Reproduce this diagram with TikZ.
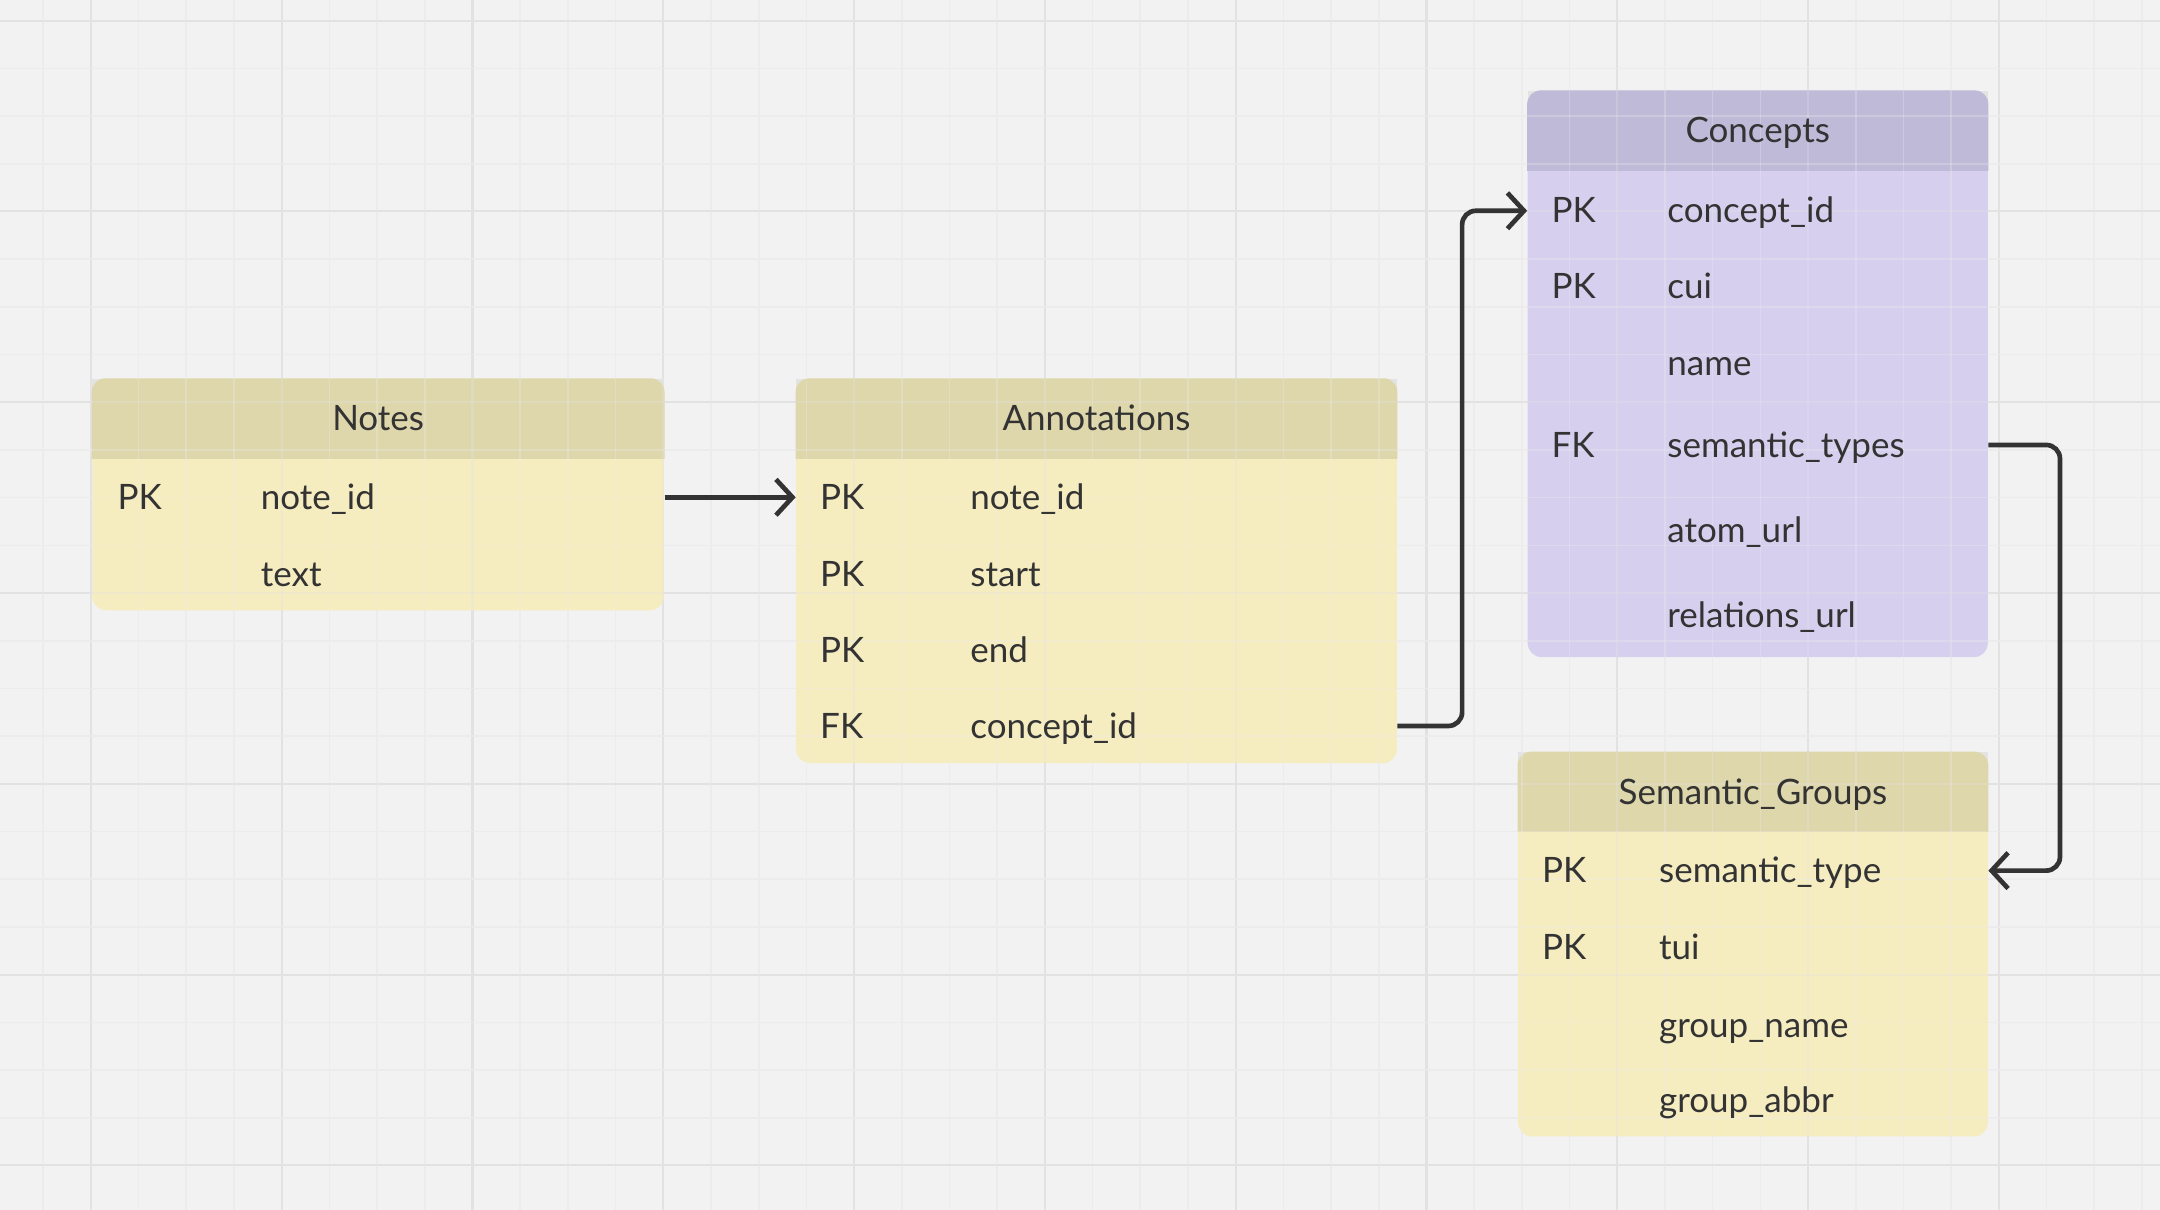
\documentclass[tikz,border=0pt]{standalone}
\usepackage{fontspec}
\setmainfont{Lato}
\usetikzlibrary{arrows.meta}
\definecolor{bg}{HTML}{F2F2F2}
\definecolor{gmaj}{HTML}{E2E2E2}
\definecolor{gmin}{HTML}{ECECEC}
\definecolor{ybody}{HTML}{F5ECC0}
\definecolor{yhdr}{HTML}{DFD7AC}
\definecolor{pbody}{HTML}{D6D0EE}
\definecolor{phdr}{HTML}{BEBAD8}
\definecolor{hshade}{HTML}{E3E3E3}
\definecolor{ink}{HTML}{333333}
\tikzset{
  tbl/.style={inner sep=0pt, rounded corners=5pt, draw=none},
  fld/.style={anchor=west, inner sep=0pt, text height=8.8pt, text depth=0pt,
    font=\fontsize{12.7pt}{14pt}\selectfont, text=ink},
  ttl/.style={anchor=center, inner sep=0pt, text height=8.8pt, text depth=0pt,
    font=\fontsize{12.7pt}{14pt}\selectfont, text=ink},
  conn/.style={draw=ink, line width=1.7pt, rounded corners=5pt,
    -{Straight Barb[length=6pt,width=13pt]}},
  gridmaj/.style={draw=gmaj, line width=0.75pt},
  gridmin/.style={draw=gmin, line width=0.6pt}
}
\newcommand{\gridlines}{%
  \foreach \i in {-2,...,44}{
    \pgfmathtruncatemacro{\m}{mod(\i+8,4)}
    \ifnum\m=0 \draw[gridmaj] (66+34.625*\i,0) -- (66+34.625*\i,878);
    \else \draw[gridmin] (66+34.625*\i,0) -- (66+34.625*\i,878); \fi
  }
  \foreach \j in {0,...,25}{
    \pgfmathtruncatemacro{\m}{mod(\j,4)}
    \ifnum\m=0 \draw[gridmaj] (0,15+34.625*\j) -- (1568,15+34.625*\j);
    \else \draw[gridmin] (0,15+34.625*\j) -- (1568,15+34.625*\j); \fi
  }
}
\begin{document}
\begin{tikzpicture}[x=0.5pt,y=-0.5pt]
\useasboundingbox (0,0) rectangle (1568,878);
\fill[bg] (0,0) rectangle (1568,878);
\gridlines

% header shades (square corners behind rounded header)
\fill[hshade] (67,275) rectangle (482,333);
\fill[hshade] (578,275) rectangle (1014,333);
\fill[hshade] (1109,66) rectangle (1443,124);
\fill[hshade] (1102,546) rectangle (1443,604);

% tables
\node[tbl, fill=ybody, minimum width=207.5pt, minimum height=84pt] (notes) at (274.5,359) {};
\node[tbl, fill=ybody, minimum width=218pt, minimum height=139.5pt] (annot) at (796,414.5) {};
\node[tbl, fill=pbody, minimum width=167pt, minimum height=205.5pt] (conc) at (1276,271.5) {};
\node[tbl, fill=ybody, minimum width=170.5pt, minimum height=139.5pt] (sg) at (1272.5,685.5) {};

\begin{scope}
\clip (notes.north west) rectangle ([yshift=-29pt]notes.north east);
\fill[yhdr, rounded corners=5pt] (notes.north west) rectangle (notes.south east);
\end{scope}
\begin{scope}
\clip (annot.north west) rectangle ([yshift=-29pt]annot.north east);
\fill[yhdr, rounded corners=5pt] (annot.north west) rectangle (annot.south east);
\end{scope}
\begin{scope}
\clip (conc.north west) rectangle ([yshift=-29pt]conc.north east);
\fill[phdr, rounded corners=5pt] (conc.north west) rectangle (conc.south east);
\end{scope}
\begin{scope}
\clip (sg.north west) rectangle ([yshift=-29pt]sg.north east);
\fill[yhdr, rounded corners=5pt] (sg.north west) rectangle (sg.south east);
\end{scope}

% faint grid through the tables
\begin{scope}[opacity=0.3]
\gridlines
\end{scope}

% Notes
\node[ttl] (notesT) at (274.5,304) {Notes};
\node[fld] (nk1) at (85,361) {PK};
\node[fld] (nf1) at (189,361) {note\_id};
\node[fld] (nf2) at (189,417) {text};

% Annotations
\node[ttl] (annotT) at (796,304) {Annotations};
\node[fld] (ak1) at (595,361) {PK};
\node[fld] (af1) at (704,361) {note\_id};
\node[fld] (ak2) at (595,417) {PK};
\node[fld] (af2) at (704,417) {start};
\node[fld] (ak3) at (595,472) {PK};
\node[fld] (af3) at (704,472) {end};
\node[fld] (ak4) at (595,527) {FK};
\node[fld] (af4) at (704,527) {concept\_id};

% Concepts
\node[ttl] (concT) at (1276,95) {Concepts};
\node[fld] (ck1) at (1126,153) {PK};
\node[fld] (cf1) at (1210,153) {concept\_id};
\node[fld] (ck2) at (1126,208) {PK};
\node[fld] (cf2) at (1210,208) {cui};
\node[fld] (cf3) at (1210,264) {name};
\node[fld] (ck4) at (1126,323) {FK};
\node[fld] (cf4) at (1210,323) {semantic\_types};
\node[fld] (cf5) at (1210,385) {atom\_url};
\node[fld] (cf6) at (1210,447) {relations\_url};

% Semantic_Groups
\node[ttl] (sgT) at (1272.5,575) {Semantic\_Groups};
\node[fld] (sk1) at (1119,632) {PK};
\node[fld] (sf1) at (1204,632) {semantic\_type};
\node[fld] (sk2) at (1119,688) {PK};
\node[fld] (sf2) at (1204,688) {tui};
\node[fld] (sf3) at (1204,744) {group\_name};
\node[fld] (sf4) at (1204,799) {group\_abbr};

% connectors
\draw[conn] (notes.east |- nf1.west) -- (annot.west |- af1.west);
\draw[conn] (annot.east |- af4.west) -- ++(23.5pt,0) |- (conc.west |- cf1.west);
\draw[conn] (conc.east |- cf4.west) -- ++(26pt,0) |- (sg.east |- sf1.west);
\end{tikzpicture}
\end{document}
